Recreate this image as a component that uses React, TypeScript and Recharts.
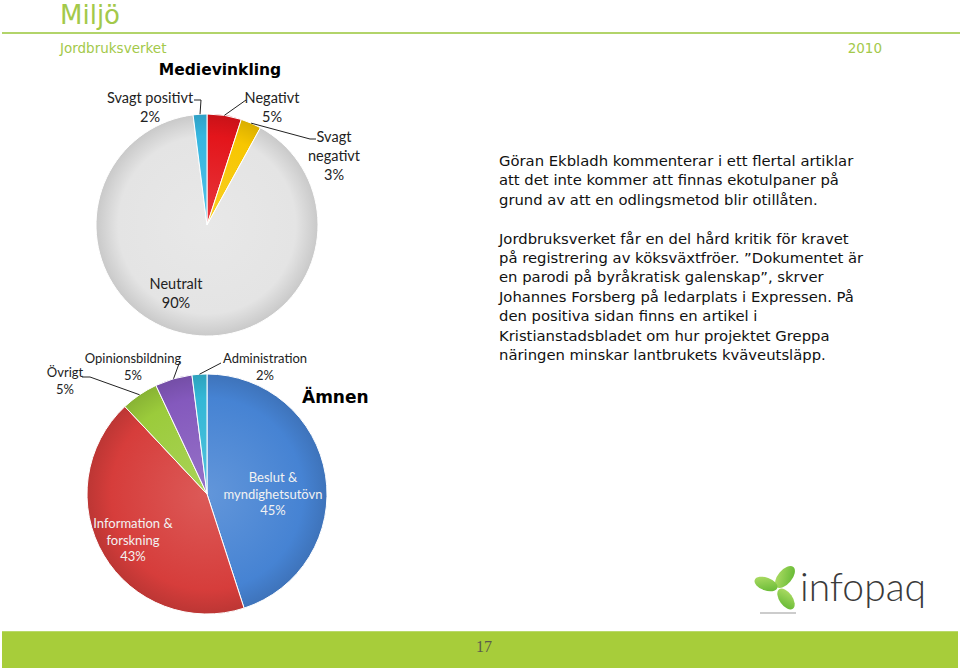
import React from 'react'
import { PieChart, Pie, Cell } from 'recharts'

// Medievinkling (tone of coverage), clockwise from 12 o'clock
const toneNames = ['Negativt', 'Svagt negativt', 'Neutralt', 'Svagt positivt']
const toneValues = [5, 3, 90, 2]
const toneColors = ['#e3151b', '#f7c600', '#e4e4e4', '#35b6e0']

// Ämnen (topics), clockwise from 12 o'clock
const topicNames = [
  'Beslut & myndighetsutövn',
  'Information & forskning',
  'Övrigt',
  'Opinionsbildning',
  'Administration',
]
const topicValues = [45, 43, 5, 5, 2]
const topicColors = ['#4683d3', '#d63d3b', '#9bcb3b', '#8459bd', '#33b7d6']

const toneData = toneNames.map((name, i) => ({ name, value: toneValues[i] }))
const topicData = topicNames.map((name, i) => ({ name, value: topicValues[i] }))

const bodyText = [
  'Göran Ekbladh kommenterar i ett flertal artiklar',
  'att det inte kommer att finnas ekotulpaner på',
  'grund av att en odlingsmetod blir otillåten.',
  '',
  'Jordbruksverket får en del hård kritik för kravet',
  'på registrering av köksväxtfröer. ”Dokumentet är',
  'en parodi på byråkratisk galenskap”, skrver',
  'Johannes Forsberg på ledarplats i Expressen. På',
  'den positiva sidan finns en artikel i',
  'Kristianstadsbladet om hur projektet Greppa',
  'näringen minskar lantbrukets kväveutsläpp.',
]

const GREEN = '#a3c94a'
const LABEL_FONT = 'Lato, "Noto Sans", sans-serif'
const RADIAN = Math.PI / 180
const NO_MARGIN = { top: 0, right: 0, bottom: 0, left: 0 }

type LabelSpot = {
  lines: string[]
  x: number
  y: number
  color?: string
  via?: [number, number][]
}

// label placement in page coordinates (charts are laid at 0,0)
const toneSpots: LabelSpot[] = [
  { lines: ['Negativt'], x: 272, y: 97, via: [[246, 100]] },
  { lines: ['Svagt', 'negativt'], x: 334, y: 136, via: [[310, 139], [316, 139]] },
  { lines: ['Neutralt'], x: 176, y: 283 },
  { lines: ['Svagt positivt'], x: 150, y: 97, via: [[201, 100], [194, 100]] },
]

const topicSpots: LabelSpot[] = [
  { lines: ['Beslut &', 'myndighetsutövn'], x: 273, y: 477, color: '#f2f2f2' },
  { lines: ['Information &', 'forskning'], x: 133, y: 523, color: '#f2f2f2' },
  { lines: ['Övrigt'], x: 65, y: 372, via: [[90, 377], [82, 377]] },
  { lines: ['Opinionsbildning'], x: 133, y: 358, via: [[180, 361]] },
  { lines: ['Administration'], x: 265, y: 358, via: [[221, 363]] },
]

function makeLabel(spots: LabelSpot[], fontSize: number, lineGap: number) {
  return (props: any) => {
    const { cx, cy, midAngle, outerRadius, index, value } = props
    const spot = spots[index]
    const lines = [...spot.lines, `${value}%`]
    let line = null
    if (spot.via) {
      const sx = cx + outerRadius * Math.cos(-midAngle * RADIAN)
      const sy = cy + outerRadius * Math.sin(-midAngle * RADIAN)
      const pts = [[sx, sy], ...spot.via].map((p) => p.join(',')).join(' ')
      line = <polyline points={pts} fill="none" stroke="#222" strokeWidth={1} />
    }
    return (
      <g key={`lbl-${index}`}>
        {line}
        {lines.map((t, i) => (
          <text
            key={i}
            x={spot.x}
            y={spot.y + i * lineGap}
            textAnchor="middle"
            dominantBaseline="central"
            fontFamily={LABEL_FONT}
            fontSize={fontSize}
            fill={spot.color || '#222'}
          >
            {t}
          </text>
        ))}
      </g>
    )
  }
}

function shade(hex: string, amt: number) {
  const n = parseInt(hex.slice(1), 16)
  const f = (c: number) =>
    Math.max(0, Math.min(255, Math.round(amt > 0 ? c + (255 - c) * amt : c * (1 + amt))))
  const r = f((n >> 16) & 255)
  const g = f((n >> 8) & 255)
  const b = f(n & 255)
  return `rgb(${r},${g},${b})`
}

function Gradients({ id, colors, cx, cy, r }: { id: string; colors: string[]; cx: number; cy: number; r: number }) {
  return (
    <defs>
      {colors.map((c, i) => (
        <radialGradient
          key={i}
          id={`${id}-${i}`}
          gradientUnits="userSpaceOnUse"
          cx={cx}
          cy={cy}
          r={r}
        >
          <stop offset="0%" stopColor={shade(c, 0.15)} />
          <stop offset="80%" stopColor={c} />
          <stop offset="100%" stopColor={shade(c, -0.12)} />
        </radialGradient>
      ))}
    </defs>
  )
}

export default function App() {
  return (
    <div
      style={{
        position: 'absolute',
        left: 0,
        top: 0,
        width: 960,
        height: 669,
        background: '#fff',
        overflow: 'hidden',
        fontFamily: '"DejaVu Sans", Verdana, sans-serif',
      }}
    >
      {/* header */}
      <div style={{ position: 'absolute', left: 60, top: 0, fontSize: 26, lineHeight: '30px', color: GREEN }}>
        Miljö
      </div>
      <div style={{ position: 'absolute', left: 2, right: 0, top: 32, height: 2, background: '#b2d46a' }} />
      <div style={{ position: 'absolute', left: 60, top: 40, fontSize: 13.5, lineHeight: '16px', color: GREEN }}>
        Jordbruksverket
      </div>
      <div style={{ position: 'absolute', right: 78, top: 40, fontSize: 13.5, lineHeight: '16px', color: GREEN }}>
        2010
      </div>

      {/* pie 1 */}
      <div
        style={{
          position: 'absolute',
          left: 0,
          top: 60,
          width: 440,
          textAlign: 'center',
          fontSize: 15.5,
          fontWeight: 'bold',
          lineHeight: '20px',
        }}
      >
        Medievinkling
      </div>
      <div style={{ position: 'absolute', left: 0, top: 0 }}>
        <PieChart width={420} height={345} margin={NO_MARGIN}>
          <Gradients id="tone" colors={toneColors} cx={207} cy={225} r={111} />
          <Pie
            data={toneData}
            dataKey="value"
            nameKey="name"
            cx={207}
            cy={225}
            outerRadius={111}
            startAngle={90}
            endAngle={-270}
            stroke="#ffffff"
            strokeWidth={1}
            labelLine={false}
            label={makeLabel(toneSpots, 14.5, 19)}
            isAnimationActive={false}
          >
            {toneData.map((d, i) => (
              <Cell key={d.name} fill={`url(#tone-${i})`} />
            ))}
          </Pie>
        </PieChart>
      </div>

      {/* pie 2 */}
      <div
        style={{
          position: 'absolute',
          left: 302,
          top: 386,
          fontSize: 17,
          fontWeight: 'bold',
          lineHeight: '22px',
        }}
      >
        Ämnen
      </div>
      <div style={{ position: 'absolute', left: 0, top: 0 }}>
        <PieChart width={420} height={628} margin={NO_MARGIN}>
          <Gradients id="topic" colors={topicColors} cx={207} cy={494} r={120} />
          <Pie
            data={topicData}
            dataKey="value"
            nameKey="name"
            cx={207}
            cy={494}
            outerRadius={120}
            startAngle={90}
            endAngle={-270}
            stroke="#ffffff"
            strokeWidth={1}
            labelLine={false}
            label={makeLabel(topicSpots, 13, 16.5)}
            isAnimationActive={false}
          >
            {topicData.map((d, i) => (
              <Cell key={d.name} fill={`url(#topic-${i})`} />
            ))}
          </Pie>
        </PieChart>
      </div>

      {/* commentary */}
      <div
        style={{
          position: 'absolute',
          left: 499,
          top: 151,
          fontSize: 14.8,
          lineHeight: '19.4px',
          color: '#111',
          whiteSpace: 'pre',
        }}
      >
        {bodyText.map((t, i) => (
          <div key={i} style={{ height: 19.4 }}>
            {t}
          </div>
        ))}
      </div>

      {/* logo */}
      <svg style={{ position: 'absolute', left: 748, top: 560 }} width={190} height={60}>
        <defs>
          <linearGradient id="lobe" x1="0" y1="0" x2="1" y2="1">
            <stop offset="0%" stopColor="#b6e06a" />
            <stop offset="100%" stopColor="#5cb52e" />
          </linearGradient>
        </defs>
        <ellipse cx={37} cy={17} rx={13} ry={7} transform="rotate(-50 37 17)" fill="url(#lobe)" />
        <ellipse cx={18} cy={24} rx={12} ry={6.5} transform="rotate(20 18 24)" fill="url(#lobe)" />
        <ellipse cx={38} cy={39} rx={12} ry={6.5} transform="rotate(55 38 39)" fill="url(#lobe)" />
        <line x1={12} y1={53} x2={48} y2={53} stroke="#bbb" strokeWidth={1.5} />
        <text
          x={52}
          y={41}
          fontFamily='Lato, "Open Sans", sans-serif'
          fontWeight={300}
          fontSize={39}
          fill="#3a3a3a"
        >
          infopaq
        </text>
      </svg>

      {/* footer */}
      <div
        style={{
          position: 'absolute',
          left: 2,
          top: 631,
          width: 956,
          height: 36,
          background: '#a7cd3a',
          borderTop: '1px solid #b9d96a',
        }}
      />
      <div
        style={{
          position: 'absolute',
          left: 464,
          top: 638,
          width: 40,
          textAlign: 'center',
          fontFamily: '"Liberation Serif", serif',
          fontSize: 16,
          lineHeight: '18px',
          color: '#5b5b4c',
        }}
      >
        17
      </div>
    </div>
  )
}
